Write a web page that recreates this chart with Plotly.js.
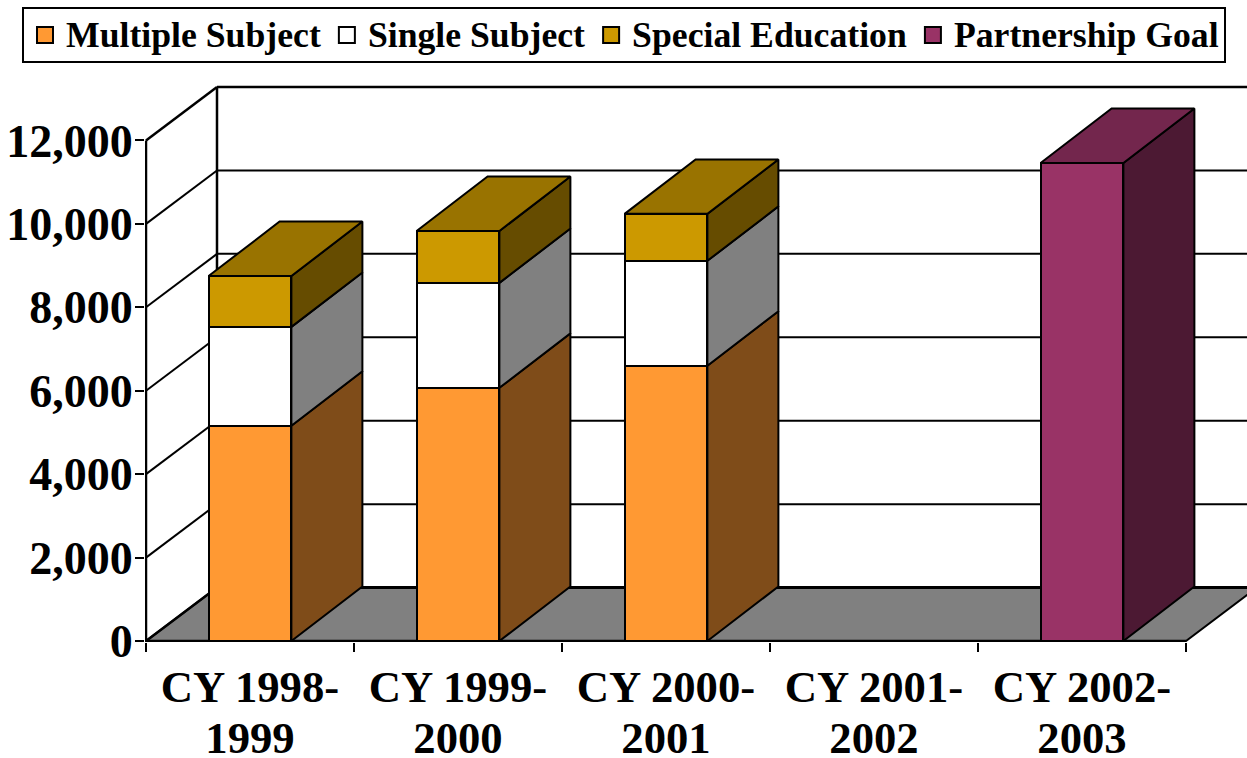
<!DOCTYPE html>
<html><head><meta charset="utf-8">
<script src="https://cdn.plot.ly/plotly-3.0.1.min.js"></script>
<style>html,body{margin:0;padding:0;background:#fff;overflow:hidden}</style>
</head><body><div id="chart" style="width:1247px;height:758px"></div>
<script>
// ---- data ----
const categories = ["CY 1998-<br>1999","CY 1999-<br>2000","CY 2000-<br>2001","CY 2001-<br>2002","CY 2002-<br>2003"];
const multipleSubject = [5160, 6070, 6600, null, null];
const singleSubject   = [2370, 2515, 2515, null, null];
const specialEducation= [1220, 1245, 1125, null, null];
const partnershipGoal = [null, null, null, null, 11460];
const yTicks = [0,2000,4000,6000,8000,10000,12000];

// ---- look ----
const FONT = '"Liberation Serif","Times New Roman",serif';
const BAR_W = 0.398, DX = 71/208, DY = 1281, DY_BAR = 1305;   // oblique depth in axis units
const xs = categories.map((_,i)=>i);
const series = [
 {name:'Multiple Subject', y:multipleSubject, front:'#FF9933', side:'#7F4C19', top:'#BF7326'},
 {name:'Single Subject',   y:singleSubject,   front:'#FFFFFF', side:'#808080', top:'#BFBFBF'},
 {name:'Special Education',y:specialEducation,front:'#CC9900', side:'#664C00', top:'#997300'},
 {name:'Partnership Goal', y:partnershipGoal, front:'#993366', side:'#4C1933', top:'#73264D'}
];
const EDGE = {color:'#000',width:2};

const traces = [];
const base = xs.map(()=>0);
const tops = xs.map(()=>null);
series.forEach(s=>{
  traces.push({type:'bar',x:xs,y:s.y,width:BAR_W,name:s.name,showlegend:false,hoverinfo:'x+y',
    marker:{color:s.front,line:{color:'#000',width:2}}});
  const sx=[],sy=[];
  xs.forEach(i=>{
    if(s.y[i]==null) return;
    const x1=i+BAR_W/2, y0=base[i], y1=y0+s.y[i];
    sx.push(x1,x1+DX,x1+DX,x1,x1,null); sy.push(y0,y0+DY_BAR,y1+DY_BAR,y1,y0,null);
    base[i]=y1; tops[i]=s;
  });
  traces.push({type:'scatter',mode:'lines',x:sx,y:sy,fill:'toself',fillcolor:s.side,line:EDGE,showlegend:false,hoverinfo:'skip'});
});
series.forEach(s=>{
  const tx=[],ty=[];
  xs.forEach(i=>{
    if(tops[i]!==s) return;
    const x0=i-BAR_W/2,x1=i+BAR_W/2,y=base[i];
    tx.push(x0,x1,x1+DX,x0+DX,x0,null); ty.push(y,y,y+DY_BAR,y+DY_BAR,y,null);
  });
  if(tx.length) traces.push({type:'scatter',mode:'lines',x:tx,y:ty,fill:'toself',fillcolor:s.top,line:EDGE,showlegend:false,hoverinfo:'skip'});
});
// legend keys
series.forEach(s=>traces.push({type:'scatter',mode:'markers',x:[0],y:[null],
  name:`<span style="font-size:35.7px">${s.name}</span>`,hoverinfo:'skip',
  marker:{symbol:'square',size:16,color:s.front,line:{color:'#000',width:2}}}));

// ---- chart box: floor and walls behind the bars ----
const xL=-0.5, xR=4.5, yTop=yTicks[yTicks.length-1];
const ln=(x0,y0,x1,y1,w)=>({type:'line',layer:'below',xref:'x',yref:'y',x0,y0,x1,y1,line:{color:'#000',width:w}});
const shapes=[
 {type:'path',layer:'below',xref:'x',yref:'y',fillcolor:'#808080',line:{color:'#000',width:2},
  path:`M${xL},0L${xR},0L${xR+DX},${DY}L${xL+DX},${DY}Z`},
 ln(xL+DX,DY,xR+1,DY,3),
 ln(xL,0,xR,0,2.5),
 ln(xL,0,xL,yTop,2.5),
 ln(xL+DX,DY,xL+DX,yTop+DY,2.5)
];
yTicks.forEach(t=>{
  shapes.push(ln(xL,t,xL+DX,t+DY,t===yTop||t===0?2.5:2));
  if(t>0) shapes.push(ln(xL+DX,t+DY,xR+1,t+DY,t===yTop?2.5:2));
});

const PX=208, PY=83.5/2000;
const layout={
 width:1247,height:758,paper_bgcolor:'#fff',plot_bgcolor:'#fff',showlegend:true,barmode:'stack',
 margin:{l:145,r:0,t:84,b:115.5,pad:0,autoexpand:false},
 font:{family:FONT,color:'#000'},
 xaxis:{type:'linear',range:[xL-1/PX,xL+1101/PX],showgrid:false,zeroline:false,showline:false,
  tickmode:'array',tickvals:xs,
  ticktext:categories.map(c=>c.split('<br>').map(l=>`<span style="font-size:44.7px">${l}</span>`).join('<br>')),
  ticks:'',ticklabelstandoff:20,tickfont:{family:FONT,size:39,weight:'bold',color:'#000'},
  minor:{tickmode:'array',tickvals:[-0.5,0.5,1.5,2.5,3.5,4.5],ticks:'outside',ticklen:9,tickwidth:2,tickcolor:'#000',showgrid:false}},
 yaxis:{range:[-1/PY,(641.5-84)/PY],showgrid:false,zeroline:false,showline:false,tickmode:'array',tickvals:yTicks,
  tickformat:',d',ticks:'outside',ticklen:9,tickwidth:2,tickcolor:'#000',ticklabelstandoff:-7,
  tickfont:{family:FONT,size:46,weight:'bold',color:'#000'}},
 legend:{orientation:'h',traceorder:'normal',xanchor:'left',yanchor:'top',x:(22-145)/1102,y:1+(84-7)/558.5,
  itemwidth:32,bgcolor:'#fff',bordercolor:'#000',borderwidth:2,
  font:{family:FONT,size:30,weight:'bold',color:'#000'},itemclick:false,itemdoubleclick:false},
 shapes
};
Plotly.newPlot('chart',traces,layout,{displayModeBar:false,responsive:false});
</script></body></html>
